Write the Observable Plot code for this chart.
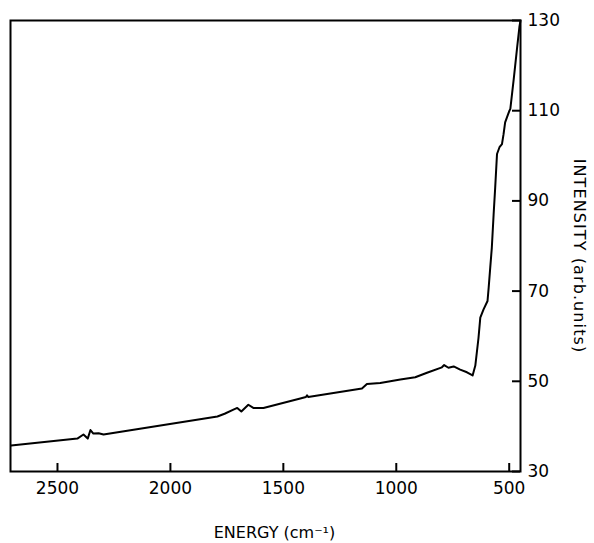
<!DOCTYPE html>
<html>
<head>
<meta charset="utf-8">
<script src="https://cdn.jsdelivr.net/npm/d3@7"></script>
<script src="https://cdn.jsdelivr.net/npm/@observablehq/plot@0.6"></script>
<style>
  html, body { margin: 0; padding: 0; background: white; }
</style>
</head>
<body>
<div id="chart"></div>
<script>
const energy = [2705, 2412, 2385, 2366, 2354, 2341, 2318, 2296, 1792, 1760, 1721, 1704, 1686, 1655, 1633, 1588, 1425, 1400, 1395, 1390, 1152, 1130, 1071, 982, 916, 864, 798, 788, 769, 746, 717, 687, 662, 650, 636, 628, 614, 596, 591, 584, 577, 569, 562, 554, 543, 532, 525, 518, 510, 499, 495, 480, 465, 455, 450];
const intensity = [35.75, 37.3, 38.2, 37.3, 39.2, 38.4, 38.5, 38.2, 42.2, 42.8, 43.7, 44.1, 43.3, 44.8, 44.1, 44.1, 46.2, 46.5, 46.9, 46.5, 48.4, 49.4, 49.6, 50.4, 50.9, 51.9, 53.1, 53.6, 53.0, 53.3, 52.6, 52.0, 51.3, 53.5, 59.6, 64.1, 65.9, 67.8, 70.7, 75.2, 79.6, 87, 93, 100.4, 101.9, 102.6, 104.8, 107.4, 108.5, 110, 110.4, 117, 124, 128.5, 130];
const xTicks = [2500, 2000, 1500, 1000, 500];
const yTicks = [30, 50, 70, 90, 110, 130];
const xLabel = "ENERGY (cm⁻¹)";
const yLabel = "INTENSITY (arb.units)";

const data = energy.map((e, i) => ({energy: e, intensity: intensity[i]}));

const W = 594, H = 543, mL = 10, mR = 74, mT = 20, mB = 72;
const xDomain = [2708, 450], yDomain = [30, 130];
const frameW = W - mL - mR, frameH = H - mT - mB, tickLen = 8;

const chart = Plot.plot({
  width: W,
  height: H,
  marginLeft: mL,
  marginRight: mR,
  marginTop: mT,
  marginBottom: mB,
  x: {domain: xDomain},
  y: {domain: yDomain},
  style: {fontFamily: "DejaVu Sans", fontSize: "17px", background: "white", color: "black"},
  marks: [
    Plot.frame({strokeWidth: 2, stroke: "black", fill: "none"}),
    Plot.axisX(xTicks, {tickSize: 0, tickPadding: 10, tickFormat: "d", label: null}),
    Plot.axisY(yTicks, {anchor: "right", tickSize: 0, tickPadding: 7, tickFormat: "d", label: null}),
    Plot.tickX(xTicks, {x: d => d, insetTop: frameH - tickLen, strokeWidth: 2, stroke: "black"}),
    Plot.tickY(yTicks, {y: d => d, insetLeft: frameW - tickLen, strokeWidth: 2, stroke: "black"}),
    Plot.line(data, {x: "energy", y: "intensity", strokeWidth: 2, stroke: "black"}),
    Plot.text([xLabel], {frameAnchor: "bottom", textAnchor: "middle", dx: 9, dy: 66, fontSize: 16}),
    Plot.text([yLabel], {frameAnchor: "right", textAnchor: "middle", lineAnchor: "middle", dx: 59, dy: 10, rotate: 90, fontSize: 16})
  ]
});
document.getElementById("chart").appendChild(chart);

// slight letter spacing for the vertical title, as in the reference
d3.select(chart).selectAll("text").filter(function() { return this.textContent === yLabel; })
  .style("letter-spacing", "1.1px");
</script>
</body>
</html>
